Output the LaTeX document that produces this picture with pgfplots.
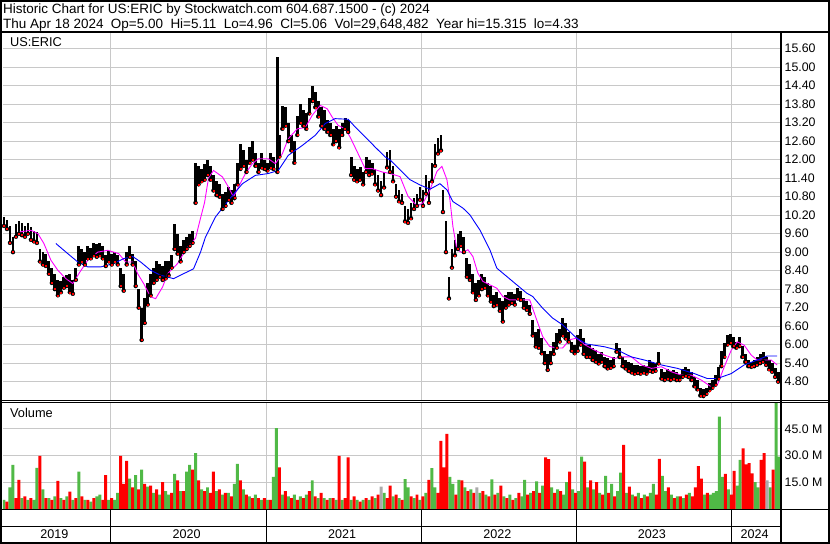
\documentclass[border=0pt]{standalone}
\usepackage{pgfplots}
\pgfplotsset{compat=1.18}
\usepackage{pgfplotstable}
\usepackage{fontspec}
\setmainfont{Liberation Sans}

\definecolor{gridgray}{RGB}{200,200,200}
\definecolor{vgreen}{RGB}{80,185,70}
\definecolor{vred}{RGB}{255,0,0}
\definecolor{vgray}{RGB}{170,170,170}
\definecolor{mapink}{RGB}{255,0,255}
\definecolor{mablue}{RGB}{0,0,255}

\pgfplotstableread{
x hi lo
3 10.15 9.85
6 10.05 9.75
9 9.85 9.3
12 9.5 9.0
15 9.9 9.5
18 10.0 9.6
21 9.95 9.55
24 9.85 9.5
27 9.95 9.6
30 9.8 9.4
33 9.7 9.35
36 9.65 9.3
39 9.1 8.7
42 9.0 8.6
45 8.95 8.55
48 8.7 8.3
51 8.5 8.0
54 8.3 7.8
57 8.1 7.6
60 8.05 7.7
63 8.2 7.85
66 8.25 7.9
69 8.3 7.7
72 8.1 7.65
75 8.5 8.1
78 9.2 8.6
81 9.1 8.7
84 9.0 8.6
87 9.2 8.8
90 9.15 8.8
93 9.3 8.9
96 9.25 8.85
99 9.3 8.9
102 9.2 8.8
105 8.9 8.55
108 9.05 8.7
111 8.95 8.6
114 9.0 8.7
117 8.9 8.6
120 8.5 7.9
123 8.3 7.75
126 9.0 8.6
129 9.2 8.85
132 8.95 8.6
135 8.7 7.9
138 7.8 7.2
141 7.2 6.15
144 7.5 6.7
147 8.0 7.3
150 8.3 7.6
153 8.5 8.0
156 8.7 8.1
159 8.6 8.2
162 8.55 8.1
165 8.7 8.15
168 8.7 8.25
171 8.9 8.5
174 9.9 9.1
177 9.6 8.95
180 9.2 8.7
183 9.4 9.0
186 9.5 9.1
189 9.6 9.2
192 9.7 9.3
195 11.9 10.6
198 11.8 11.2
201 11.7 11.3
204 11.85 11.35
207 11.99 11.5
210 11.8 11.35
213 11.5 11.0
216 11.3 10.85
219 11.2 10.8
222 10.9 10.4
225 10.95 10.5
228 11.1 10.7
231 11.0 10.6
234 11.2 10.75
237 11.9 11.2
240 12.5 11.7
243 12.3 11.8
246 12.0 11.6
249 12.4 11.9
252 12.6 12.0
255 12.2 11.8
258 11.9 11.6
261 12.2 11.75
264 12.0 11.7
267 11.9 11.65
270 12.2 11.75
273 12.1 11.7
277 15.33 11.6
279 12.8 12.1
282 13.75 13.0
285 13.7 13.1
288 13.2 12.6
291 12.8 12.3
294 12.6 11.9
297 13.4 12.8
300 13.8 13.2
303 13.6 13.1
306 13.5 13.0
309 14.0 13.5
312 14.4 13.9
315 14.2 13.7
318 13.9 13.4
321 13.7 13.1
324 13.6 13.0
327 13.3 12.9
330 13.2 12.8
333 13.0 12.5
336 13.1 12.6
339 13.0 12.4
342 13.2 12.8
345 13.35 13.0
348 13.3 12.9
351 12.1 11.5
354 11.8 11.35
357 11.7 11.3
360 11.75 11.35
363 11.6 11.2
366 12.1 11.6
369 12.0 11.5
372 11.9 11.55
375 11.7 11.2
378 11.5 11.0
381 11.3 10.85
384 11.6 11.1
387 12.25 11.75
390 12.3 11.6
393 11.8 11.3
396 11.2 10.8
399 11.0 10.65
402 10.9 10.6
405 10.5 10.0
408 10.4 9.95
411 10.6 10.1
414 10.75 10.4
417 10.9 10.5
420 11.1 10.7
423 11.0 10.5
426 11.5 10.9
429 11.3 10.6
432 11.9 11.3
435 12.5 11.8
438 12.7 12.2
441 12.8 12.3
443 11.0 10.3
446 10.0 9.0
449 8.2 7.5
452 9.1 8.5
455 9.4 8.9
458 9.6 9.1
461 9.7 9.2
464 9.5 9.0
467 8.8 8.2
470 8.6 8.1
473 8.3 7.7
476 8.0 7.45
479 8.1 7.6
482 8.3 7.8
485 8.2 7.85
488 8.0 7.6
491 7.9 7.4
494 7.6 7.25
497 7.7 7.3
500 7.5 7.1
503 7.4 6.75
506 7.6 7.2
509 7.7 7.3
512 7.72 7.35
515 7.65 7.3
518 7.83 7.5
521 7.75 7.45
524 7.5 7.2
527 7.4 7.13
530 7.3 7.0
533 6.8 6.3
536 6.4 5.94
539 6.5 5.9
542 6.2 5.72
545 5.8 5.4
548 5.7 5.18
551 5.78 5.4
554 6.1 5.7
557 6.37 5.9
560 6.5 6.1
563 6.86 6.3
566 6.7 6.2
569 6.4 6.1
572 6.1 5.8
575 6.0 5.72
578 6.3 5.8
581 6.5 6.0
584 6.2 5.7
587 6.0 5.6
590 5.98 5.6
593 5.9 5.5
596 5.82 5.45
599 5.7 5.39
602 5.75 5.45
605 5.6 5.3
608 5.55 5.23
611 5.5 5.25
614 5.6 5.3
617 6.04 5.77
620 5.9 5.6
623 5.6 5.3
626 5.5 5.23
629 5.45 5.15
632 5.39 5.1
635 5.35 5.06
638 5.35 5.08
641 5.3 5.06
644 5.35 5.1
647 5.3 5.06
650 5.5 5.15
653 5.45 5.12
656 5.4 5.15
659 5.77 5.39
662 5.2 4.9
665 5.1 4.85
668 5.2 4.9
671 5.15 4.85
674 5.17 4.9
677 5.1 4.85
680 5.05 4.85
683 5.2 4.95
686 5.28 5.0
689 5.2 4.95
692 5.1 4.85
695 4.95 4.65
698 4.85 4.55
701 4.6 4.35
704 4.55 4.33
707 4.6 4.4
710 4.75 4.52
713 4.85 4.6
716 5.0 4.7
719 5.28 4.9
722 5.8 5.3
725 6.04 5.6
728 6.3 6.0
731 6.36 6.05
734 6.25 5.95
737 6.1 5.9
740 6.25 5.95
743 5.95 5.6
746 5.7 5.44
749 5.5 5.3
752 5.45 5.28
755 5.5 5.3
758 5.6 5.35
761 5.7 5.4
764 5.77 5.45
767 5.6 5.34
770 5.5 5.2
773 5.4 5.12
776 5.23 4.95
779 5.11 4.8
}\price

\begin{document}
\begin{tikzpicture}[x=1pt,y=1pt]
\fill[white] (0,0) rectangle (830,543);

% ---------- price panel ----------
\begin{axis}[
  at={(2pt,142pt)}, anchor=south west,
  scale only axis, width=779.5pt, height=369pt,
  xmin=2, xmax=781.5, ymin=4.170, ymax=16.111,
  axis line style={draw=none}, tick style={draw=none},
  xtick={109.5,266.5,422,576.5,732.5}, xticklabels={},
  ytick={4.8,5.4,6.0,6.6,7.2,7.8,8.4,9.0,9.6,10.2,10.8,11.4,12.0,12.6,13.2,13.8,14.4,15.0,15.6},
  xmajorgrids, ymajorgrids,
  grid style={gridgray, line width=1pt},
  yticklabel pos=right,
  scaled y ticks=false,
  yticklabel style={font=\fontsize{12.4}{14}\selectfont, anchor=west, xshift=0.5pt,
    /pgf/number format/fixed, /pgf/number format/fixed zerofill,
    /pgf/number format/precision=2, /pgf/number format/assume math mode=true},
  clip=true,
]
\addplot[black, only marks, mark=none,
  error bars/.cd, y dir=plus, y explicit, error mark=none,
  error bar style={line width=2.8pt, black}]
  table[x=x, y=lo, y error expr=\thisrow{hi}-\thisrow{lo}] {\price};
\addplot[only marks, mark=square*, mark size=0.5pt, vred] table[x=x, y=lo] {\price};
\addplot[mapink, line width=0.9pt] coordinates {
(18,9.65)(30,9.71)(37,9.6)(43,9.28)(50,8.74)(57,8.41)(65,8.14)(72,7.98)(78,8.3)(87,8.74)(97,9.0)(107,9.06)(118,8.95)(125,8.68)(132,8.68)(137,8.3)(143,7.98)(150,7.55)(155,7.49)(162,7.87)(167,8.3)(177,8.63)(187,9.17)(195,9.45)(200,10.1)(204,10.6)(208,11.4)(213,11.65)(222,11.44)(228,11.11)(233,10.79)(238,11.11)(245,11.55)(252,11.87)(258,12.03)(268,12.03)(275,11.87)(282,12.19)(288,12.68)(297,13.0)(305,13.04)(312,13.44)(320,13.76)(327,13.65)(332,13.38)(338,13.11)(345,13.0)(350,12.73)(358,12.19)(365,11.71)(372,11.71)(382,11.6)(390,11.55)(400,11.45)(408,10.81)(417,10.5)(423,10.59)(430,11.02)(437,11.62)(442,11.78)(447,11.35)(450,10.7)(453,9.83)(457,9.08)(463,8.97)(468,9.08)(473,8.86)(478,8.32)(483,8.05)(490,7.94)(497,7.83)(503,7.56)(510,7.45)(520,7.45)(530,7.45)(537,6.8)(543,6.26)(550,5.94)(557,5.89)(563,5.89)(570,6.16)(577,6.21)(585,6.0)(595,5.82)(605,5.66)(615,5.55)(622,5.6)(632,5.6)(642,5.34)(652,5.23)(662,5.28)(672,5.12)(682,5.01)(692,5.01)(702,4.85)(712,4.63)(718,4.69)(725,5.28)(732,5.82)(738,6.09)(745,5.98)(752,5.66)(758,5.5)(765,5.5)(772,5.5)(778,5.34)};
\addplot[mablue, line width=0.9pt] coordinates {
(55,9.28)(67,8.95)(77,8.68)(87,8.52)(100,8.52)(113,8.63)(123,8.79)(132,8.86)(140,8.68)(150,8.41)(160,8.25)(173,8.14)(183,8.3)(193,8.46)(200,9.0)(205,9.49)(215,10.14)(228,10.68)(242,11.22)(255,11.49)(268,11.55)(278,11.65)(288,12.14)(302,12.46)(315,12.79)(325,13.17)(335,13.33)(348,13.31)(355,13.06)(365,12.74)(375,12.41)(385,12.09)(390,11.99)(400,11.67)(410,11.35)(420,11.18)(430,11.04)(440,11.22)(447,11.02)(453,10.64)(463,10.43)(470,10.21)(480,9.72)(490,9.08)(497,8.48)(507,8.21)(517,7.94)(527,7.67)(533,7.56)(543,7.18)(553,6.86)(563,6.64)(577,6.21)(587,6.02)(605,5.93)(618,5.82)(632,5.6)(645,5.5)(662,5.34)(678,5.23)(695,5.06)(708,4.9)(718,4.9)(732,5.06)(745,5.34)(758,5.5)(768,5.63)(778,5.63)};
\end{axis}

% ---------- volume panel ----------
\begin{axis}[
  at={(2pt,34pt)}, anchor=south west,
  scale only axis, width=779.5pt, height=106pt,
  xmin=2, xmax=781.5, ymin=0, ymax=59.6,
  axis line style={draw=none}, tick style={draw=none},
  xtick={109.5,266.5,422,576.5,732.5}, xticklabels={},
  ytick={15,30,45}, yticklabels={15.0 M,30.0 M,45.0 M},
  xmajorgrids, ymajorgrids,
  grid style={gridgray, line width=1pt},
  yticklabel pos=right,
  yticklabel style={font=\fontsize{12.4}{14}\selectfont, anchor=west, xshift=0.5pt},
  ybar, bar width=3pt,
  clip=true,
]
\addplot[fill=vgreen, draw=none, bar shift=0pt] coordinates {
(3,5)(9,12)(12,24.7)(21,6)(27,5)(33,5)(36,23)(42,11)(48,6)(54,7)(60,6)(66,7)(72,5)(78,21)(84,5)(90,4)(96,7)(99,8)(108,5)(114,5)(117,9)(129,17)(135,19)(141,22)(147,12.5)(153,9)(159,8)(165,10)(168,8)(174,19.7)(180,10)(186,21)(189,24.7)(195,31.3)(201,11)(207,12)(216,10)(222,8)(228,9)(234,14)(237,25.3)(243,11)(249,7)(255,8)(261,5)(267,5)(273,18)(276,45.4)(282,8)(288,7)(294,8)(300,7)(306,8)(312,16)(318,6)(324,6)(330,6)(336,5)(342,5)(351,5)(357,5)(363,5)(369,5)(375,6)(384,9)(393,7)(399,6)(405,16.7)(408,12)(414,6)(420,5)(426,9)(432,22.9)(435,12)(450,18)(453,14)(459,16.3)(465,12)(471,11)(480,9)(486,8)(492,16.5)(498,9)(504,7)(510,8)(516,6)(522,7)(525,16.3)(531,9)(537,15.5)(543,13)(552,12)(558,11)(564,8)(567,15)(573,11)(579,10)(582,29.4)(588,12)(594,11)(600,9)(606,18.6)(612,14)(618,10)(621,20.4)(627,9)(633,8)(639,9)(645,8)(651,9)(654,14)(663,18.6)(666,10)(672,8)(678,7)(684,6)(690,9)(705,8)(711,8)(714,9)(717,10)(720,52)(723,18)(729,11)(738,13)(741,27.6)(756,15)(759,12)(771,12)(777,59.8)(780,29.4)};
\addplot[fill=vred, draw=none, bar shift=0pt] coordinates {
(6,4)(15,6)(18,16.3)(24,7)(30,6)(39,29.8)(45,6)(51,5)(57,15.7)(63,5)(69,9.7)(75,6)(81,7)(87,5)(93,6)(102,5)(105,19)(111,6)(120,29.8)(123,14)(126,27)(132,12)(138,11)(144,14)(150,13)(156,11)(162,15)(171,9)(177,16)(183,10)(192,22)(198,16)(204,10)(210,9)(213,21)(219,11)(225,9)(231,7)(240,16)(246,8)(252,6)(258,6)(264,6)(270,5)(279,23.4)(285,10)(291,6)(297,5)(303,6)(309,10)(315,7)(321,9)(327,5)(333,6)(339,29.8)(345,6)(348,29)(354,7)(360,4)(366,6)(372,7)(378,8)(387,6)(390,13)(396,8)(402,5)(411,7)(417,8)(423,7)(429,16.3)(438,9)(441,38.2)(444,23.4)(447,42.2)(456,8)(462,16)(468,10)(474,9)(483,10)(489,7)(495,8)(501,13)(507,6)(513,5)(519,9)(528,8)(534,10)(540,9)(546,29)(549,28)(555,9)(561,10)(570,21)(576,9)(585,26.6)(591,16)(597,15)(603,8)(609,9)(615,7)(624,36)(630,12.5)(636,7)(642,6)(648,7)(657,8)(660,28.1)(669,12)(675,6)(681,7)(687,8)(693,7)(696,12)(699,24)(702,17)(708,9)(726,19.7)(732,8)(735,21.4)(744,34)(747,25)(750,25.7)(753,20)(762,27.6)(765,31.3)(774,22)};
\addplot[fill=vgray, draw=none, bar shift=0pt] coordinates {(381,12.5)(477,12)(768,16)};
\end{axis}

% ---------- frames ----------
\draw[line width=2pt] (0,0) rectangle (830,543);
\draw[line width=2pt] (0,512) -- (830,512);
\draw[line width=2.4pt] (781.8,0) -- (781.8,512);
\draw[line width=0.9pt] (0,142.5) -- (830,142.5);
\draw[line width=0.9pt] (0,140.3) -- (830,140.3);
\draw[line width=1.3pt] (0,33.5) -- (830,33.5);
\draw[line width=1.6pt] (0,16.3) -- (781.8,16.3);
\foreach \xx in {109.5,266.5,422,576.5,732.5} {\draw[line width=1pt] (\xx,0) -- (\xx,33.5);}

% ---------- texts ----------
\node[anchor=base west, inner sep=0pt, font=\fontsize{13.5}{16}\selectfont] at (2,530) {Historic Chart for US:ERIC by Stockwatch.com 604.687.1500 - (c) 2024};
\node[anchor=base west, inner sep=0pt, font=\fontsize{13.5}{16}\selectfont] at (2,515.5) {Thu Apr 18 2024~ Op=5.00~ Hi=5.11~ Lo=4.96~ Cl=5.06~ Vol=29,648,482~ Year hi=15.315~ lo=4.33};
\node[anchor=base west, inner sep=0pt, font=\fontsize{12.8}{15}\selectfont] at (9,497) {US:ERIC};
\node[anchor=base west, inner sep=0pt, font=\fontsize{12.8}{15}\selectfont] at (9,125) {Volume};
\foreach \xx/\yy in {53.5/2019,186/2020,342/2021,497.5/2022,652.5/2023,755.5/2024} {
  \node[anchor=base, inner sep=0pt, font=\fontsize{12.6}{15}\selectfont] at (\xx,4) {\yy};}
\end{tikzpicture}
\end{document}
